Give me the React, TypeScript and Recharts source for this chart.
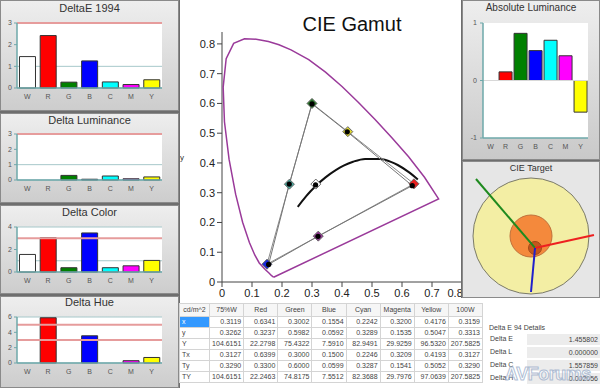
import React from "react"
import {
  BarChart,
  Bar,
  XAxis,
  YAxis,
  CartesianGrid,
  ReferenceLine,
  Cell,
  ScatterChart,
  Scatter,
} from "recharts"

const font = "Arial, 'Liberation Sans', sans-serif"

// bar panels
const channels = ["W", "R", "G", "B", "C", "M", "Y"]
const barColors = ["#ffffff", "#ff0000", "#008000", "#0000ff", "#00ffff", "#ff00ff", "#ffff00"]

const deltaE = [1.45, 2.42, 0.27, 1.25, 0.28, 0.16, 0.38]
const deltaLum = [0, 0, 0.3, 0.05, 0.26, 0.08, 0.2]
const deltaColor = [1.56, 3.05, 0.38, 3.47, 0.38, 0.55, 1.03]
const deltaHue = [0, 5.9, 0, 3.55, 0, 0.3, 0.72]
const absLum = [0, 0.15, 0.82, 0.52, 0.7, 0.43, -0.55]

// measurement table (cd/m^2)
const tableCols = ["75%W", "Red", "Green", "Blue", "Cyan", "Magenta", "Yellow", "100W"]
const tableRows = ["x", "y", "Y", "Tx", "Ty", "TY"]
const measX = [0.3119, 0.6341, 0.3002, 0.1554, 0.2242, 0.32, 0.4176, 0.3159]
const measY = [0.3262, 0.3237, 0.5982, 0.0592, 0.3289, 0.1535, 0.5047, 0.3313]
const measLum = [104.6151, 22.2798, 75.4322, 7.591, 82.9491, 29.9259, 96.532, 207.5825]
const targetX = [0.3127, 0.6399, 0.3, 0.15, 0.2246, 0.3209, 0.4193, 0.3127]
const targetY = [0.329, 0.33, 0.6, 0.0599, 0.3287, 0.1541, 0.5052, 0.329]
const targetLum = [104.6151, 22.2463, 74.8175, 7.5512, 82.3688, 29.7976, 97.0639, 207.5825]

// gamut diagram
const markerColors = ["#ffffff", "#e82020", "#2a7a2a", "#1a2adc", "#4aaaa0", "#9a3a9a", "#e0d830"]
const gamutOrder = [2, 6, 1, 5, 3, 4, 2]
const gamutXTicks = [0, 0.1, 0.2, 0.3, 0.4, 0.5, 0.6, 0.7, 0.8]
const gamutYTicks = [0, 0.1, 0.2, 0.3, 0.4, 0.5, 0.6, 0.7, 0.8]
const locusX = [0.172, 0.1644, 0.1566, 0.144, 0.1241, 0.1096, 0.0913, 0.0687, 0.0454, 0.0235, 0.0082, 0.0039, 0.0139, 0.0389, 0.075, 0.114, 0.1547, 0.19, 0.23, 0.289, 0.345, 0.4, 0.455, 0.511, 0.567, 0.622, 0.675, 0.722, 0.172]
const locusY = [0.016, 0.022, 0.03, 0.042, 0.064, 0.09, 0.1327, 0.2007, 0.295, 0.4127, 0.5384, 0.6548, 0.7502, 0.802, 0.817, 0.816, 0.808, 0.797, 0.78, 0.747, 0.705, 0.657, 0.603, 0.545, 0.484, 0.421, 0.352, 0.279, 0.016]
const planckX = [0.2525, 0.2807, 0.2952, 0.3135, 0.3451, 0.3805, 0.4053, 0.4369, 0.477, 0.5267, 0.565, 0.5857, 0.6251, 0.6528]
const planckY = [0.2522, 0.2883, 0.3048, 0.3237, 0.3516, 0.3768, 0.3907, 0.4041, 0.4137, 0.4133, 0.4029, 0.3931, 0.3674, 0.3444]

// CIE target (offsets from target centre)
const ringX = [0, 0, 0.059]
const ringY = [0, 0, -0.176]
const errorX = [-0.809, 0.926, 0]
const errorY = [0.838, 0.015, -0.824]

const ringStyles = [
  { r: 58, fill: "#f3eea4", stroke: "#7a7a6a" },
  { r: 21, fill: "#f4893c", stroke: "#c0703a" },
  { r: 6.5, fill: "#c4561c", stroke: "#a04818" },
]
const errorColors = ["#1f8a1f", "#ee2020", "#2020cc"]

const deltaDetails = [
  { label: "Delta E", value: "1.455802" },
  { label: "Delta L", value: "0.000000" },
  { label: "Delta C", value: "1.557859" },
  { label: "Delta H", value: "0.002056" },
]

const teal = "#6ea8aa"
const tickStyle = { fontSize: 7, fill: "#555", fontFamily: font }

function DeltaPanel({ title, values, top, height, titleTop, plotTop, plotBottom, yMax, ticks, limits }: any) {
  const data = channels.map((name, i) => ({ name, value: values[i] }))
  const h = height - 2
  return (
    <div
      style={{
        position: "absolute",
        left: 0,
        top,
        width: 179,
        height,
        boxSizing: "border-box",
        border: "1px solid #8a8a8a",
        background: "linear-gradient(#eeeeee, #cdcdcd)",
        overflow: "hidden",
      }}
    >
      <div style={{ position: "absolute", top: titleTop, width: "100%", textAlign: "center", fontSize: 11, color: "#333" }}>
        {title}
      </div>
      <BarChart
        width={177}
        height={h}
        data={data}
        barCategoryGap="12%"
        margin={{ top: plotTop - top - 1, right: 16, bottom: h - (plotBottom - top - 1) - 14, left: 3 }}
      >
        <CartesianGrid vertical={false} fill="#ffffff" stroke="#a6c8ca" />
        <XAxis dataKey="name" height={14} tick={tickStyle} tickLine={false} tickSize={3} tickMargin={3} axisLine={{ stroke: teal, strokeWidth: 1.5 }} />
        <YAxis width={13} domain={[0, yMax]} ticks={ticks} tick={tickStyle} tickSize={3} tickMargin={2} tickLine={{ stroke: teal }} axisLine={{ stroke: teal, strokeWidth: 1.5 }} />
        {limits.map((l: number) => (
          <ReferenceLine key={l} y={l} stroke="#e69c9c" strokeWidth={2} />
        ))}
        <Bar dataKey="value" stroke="#333" strokeWidth={1} isAnimationActive={false}>
          {data.map((d, i) => (
            <Cell key={d.name} fill={barColors[i]} />
          ))}
        </Bar>
      </BarChart>
    </div>
  )
}

const NoShape = () => <g />
const Diamond = (p: any) => {
  const { cx, cy } = p
  const fill = p.payload?.color ?? p.fill
  const s = 5
  return <path d={`M${cx},${cy - s}L${cx + s},${cy}L${cx},${cy + s}L${cx - s},${cy}Z`} fill={fill} stroke="#666" strokeWidth={1} />
}
const BlackDot = (p: any) => <circle cx={p.cx} cy={p.cy} r={2.6} fill="#000" />

function GamutChart() {
  const locus = locusX.map((x, i) => ({ x, y: locusY[i] }))
  const planck = planckX.map((x, i) => ({ x, y: planckY[i] }))
  const targetPath = gamutOrder.map((i) => ({ x: targetX[i], y: targetY[i] }))
  const measPath = gamutOrder.map((i) => ({ x: measX[i], y: measY[i] }))
  const targets = markerColors.map((color, i) => ({ x: targetX[i], y: targetY[i], color }))
  const measured = markerColors.map((_, i) => ({ x: measX[i], y: measY[i] }))
  const axisStroke = "#444"
  return (
    <ScatterChart width={283} height={303} margin={{ top: 32, right: 0, bottom: 0, left: 0 }}>
      <XAxis
        type="number"
        dataKey="x"
        domain={[0, 0.8]}
        ticks={gamutXTicks}
        height={21}
        tickSize={5}
        tickMargin={2}
        tick={{ fontSize: 11, fill: "#222", fontFamily: font }}
        stroke={axisStroke}
      />
      <YAxis
        type="number"
        dataKey="y"
        domain={[0, 0.84]}
        ticks={gamutYTicks}
        width={43}
        tickSize={5}
        tickMargin={2}
        tick={{ fontSize: 11, fill: "#222", fontFamily: font }}
        stroke={axisStroke}
        label={{ value: "y", position: "insideLeft", offset: 1, fontSize: 8, fill: "#333" }}
      />
      <Scatter data={locus} line={{ stroke: "#9a3a9a", strokeWidth: 1.5 }} lineJointType="linear" shape={NoShape} isAnimationActive={false} />
      <Scatter data={planck} line={{ stroke: "#111", strokeWidth: 2 }} lineJointType="monotoneX" shape={NoShape} isAnimationActive={false} />
      <Scatter data={targetPath} line={{ stroke: "#8a8a8a", strokeWidth: 1 }} shape={NoShape} isAnimationActive={false} />
      <Scatter data={measPath} line={{ stroke: "#777", strokeWidth: 1 }} shape={NoShape} isAnimationActive={false} />
      <Scatter data={targets} shape={Diamond} isAnimationActive={false}>
        {targets.map((t, i) => (
          <Cell key={i} fill={t.color} />
        ))}
      </Scatter>
      <Scatter data={measured} shape={BlackDot} isAnimationActive={false} />
    </ScatterChart>
  )
}

function AbsoluteLuminance() {
  const data = channels.map((name, i) => ({ name, value: absLum[i] }))
  return (
    <div
      style={{
        position: "absolute",
        left: 462,
        top: 0,
        width: 138,
        height: 160,
        boxSizing: "border-box",
        border: "1px solid #8a8a8a",
        background: "linear-gradient(#eeeeee, #c9c9c9)",
      }}
    >
      <div style={{ position: "absolute", top: 1, width: "100%", textAlign: "center", fontSize: 10, color: "#333" }}>
        Absolute Luminance
      </div>
      <BarChart width={136} height={158} data={data} barCategoryGap="7%" margin={{ top: 22, right: 11, bottom: 7, left: 6 }}>
        <CartesianGrid horizontal={false} vertical={false} fill="#ffffff" />
        <XAxis dataKey="name" height={14} tick={tickStyle} tickLine={false} tickSize={3} tickMargin={3} axisLine={{ stroke: teal, strokeWidth: 1.5 }} />
        <YAxis width={14} domain={[-1, 1]} ticks={[-1, 0, 1]} tick={tickStyle} tickSize={3} tickMargin={3} tickLine={{ stroke: teal }} axisLine={{ stroke: teal, strokeWidth: 1.5 }} />
        <ReferenceLine y={0} stroke="#d8d8d8" />
        <Bar dataKey="value" stroke="#333" strokeWidth={1} isAnimationActive={false}>
          {data.map((d, i) => (
            <Cell key={d.name} fill={barColors[i]} />
          ))}
        </Bar>
      </BarChart>
    </div>
  )
}

function CieTarget() {
  const start = { x: ringX[2], y: ringY[2] }
  return (
    <div
      style={{
        position: "absolute",
        left: 462,
        top: 161,
        width: 138,
        height: 137,
        boxSizing: "border-box",
        border: "1px solid #8a8a8a",
        background: "#e6e6e6",
        overflow: "hidden",
      }}
    >
      <div style={{ position: "absolute", top: 1, width: "100%", textAlign: "center", fontSize: 9, color: "#333" }}>CIE Target</div>
      <div style={{ position: "absolute", left: 0, top: 0 }}>
        <ScatterChart width={136} height={148} margin={{ top: 6, right: 0, bottom: 6, left: 0 }}>
          <XAxis type="number" dataKey="x" domain={[-1, 1]} hide />
          <YAxis type="number" dataKey="y" domain={[-1, 1]} hide />
          {ringStyles.map((s, i) => (
            <Scatter
              key={"ring" + i}
              data={[{ x: ringX[i], y: ringY[i] }]}
              shape={(p: any) => <circle cx={p.cx} cy={p.cy} r={s.r} fill={s.fill} stroke={s.stroke} strokeWidth={1} />}
              isAnimationActive={false}
            />
          ))}
          {errorColors.map((c, i) => (
            <Scatter
              key={"err" + i}
              data={[start, { x: errorX[i], y: errorY[i] }]}
              line={{ stroke: c, strokeWidth: 2 }}
              shape={NoShape}
              isAnimationActive={false}
            />
          ))}
        </ScatterChart>
      </div>
    </div>
  )
}

function MeasureTable() {
  const rowValues = [measX, measY, measLum, targetX, targetY, targetLum]
  const cell: React.CSSProperties = {
    border: "1px solid #d4d4d4",
    padding: "0 2px",
    height: 10,
    lineHeight: "10px",
    fontSize: 7,
    color: "#444",
    textAlign: "right",
    whiteSpace: "nowrap",
    overflow: "hidden",
  }
  return (
    <table
      style={{
        position: "absolute",
        left: 179,
        top: 303,
        width: 304,
        borderCollapse: "collapse",
        tableLayout: "fixed",
        background: "#fff",
        border: "1px solid #555",
        fontFamily: font,
      }}
    >
      <colgroup>
        <col style={{ width: 30 }} />
        {tableCols.map((c) => (
          <col key={c} style={{ width: 34 }} />
        ))}
      </colgroup>
      <thead>
        <tr>
          <th style={{ ...cell, height: 12, fontWeight: "normal", textAlign: "center", background: "#f6f6f6" }}>cd/m^2</th>
          {tableCols.map((c) => (
            <th key={c} style={{ ...cell, height: 12, fontWeight: "normal", textAlign: "center", background: "#f6f6f6" }}>
              {c}
            </th>
          ))}
        </tr>
      </thead>
      <tbody>
        {tableRows.map((r, ri) => (
          <tr key={r}>
            <td style={{ ...cell, textAlign: "left", background: ri === 0 ? "#3399ff" : "#fff", color: ri === 0 ? "#fff" : "#444" }}>{r}</td>
            {rowValues[ri].map((v, ci) => (
              <td key={ci} style={cell}>
                {v.toFixed(4)}
              </td>
            ))}
          </tr>
        ))}
      </tbody>
    </table>
  )
}

function DeltaDetails() {
  return (
    <div style={{ position: "absolute", left: 483, top: 298, width: 117, height: 90, background: "#fff", fontSize: 7, color: "#444", overflow: "hidden" }}>
      <div style={{ position: "absolute", left: 6, top: 26 }}>Delta E 94 Details</div>
      {deltaDetails.map((d, i) => (
        <div key={d.label} style={{ position: "absolute", left: 0, top: 36 + i * 13, width: 117, height: 11 }}>
          <div style={{ position: "absolute", left: 7, top: 1 }}>{d.label}</div>
          <div
            style={{
              position: "absolute",
              left: 44,
              top: 0,
              width: 73,
              height: 11,
              lineHeight: "11px",
              background: "#ececec",
              textAlign: "right",
              paddingRight: 2,
              boxSizing: "border-box",
            }}
          >
            {d.value}
          </div>
        </div>
      ))}
      <div
        style={{
          position: "absolute",
          left: 22,
          top: 66,
          fontSize: 18,
          fontWeight: "bold",
          letterSpacing: -0.5,
          whiteSpace: "nowrap",
          color: "rgba(255,255,255,0.4)",
          WebkitTextStroke: "1px rgba(150,170,200,0.75)",
        }}
      >
        AVForums
      </div>
    </div>
  )
}

export default function App() {
  return (
    <div style={{ position: "absolute", left: 0, top: 0, width: 600, height: 388, background: "#fff", overflow: "hidden", fontFamily: font }}>
      <div style={{ position: "absolute", left: 179, top: 0 }}>
        <GamutChart />
      </div>
      <div style={{ position: "absolute", left: 252, top: 13, width: 200, textAlign: "center", fontSize: 20, color: "#111" }}>CIE Gamut</div>
      <div style={{ position: "absolute", left: 0, top: 0, width: 180, height: 388, background: "#6e6e6e" }}>
        <DeltaPanel title="DeltaE 1994" values={deltaE} top={0} height={111} titleTop={1} plotTop={23} plotBottom={88} yMax={3} ticks={[0, 1, 2, 3]} limits={[3]} />
        <DeltaPanel title="Delta Luminance" values={deltaLum} top={113} height={90} titleTop={0} plotTop={134} plotBottom={180} yMax={3} ticks={[0, 1, 2, 3]} limits={[3]} />
        <DeltaPanel title="Delta Color" values={deltaColor} top={205} height={89} titleTop={0} plotTop={227} plotBottom={272} yMax={4} ticks={[0, 1, 2, 3, 4]} limits={[3]} />
        <DeltaPanel title="Delta Hue" values={deltaHue} top={296} height={92} titleTop={-1} plotTop={317} plotBottom={363} yMax={6} ticks={[0, 1, 2, 3, 4, 5, 6]} limits={[3, 5]} />
      </div>
      <div style={{ position: "absolute", left: 461, top: 0, width: 139, height: 298, background: "#6e6e6e" }} />
      <AbsoluteLuminance />
      <CieTarget />
      <MeasureTable />
      <DeltaDetails />
    </div>
  )
}
